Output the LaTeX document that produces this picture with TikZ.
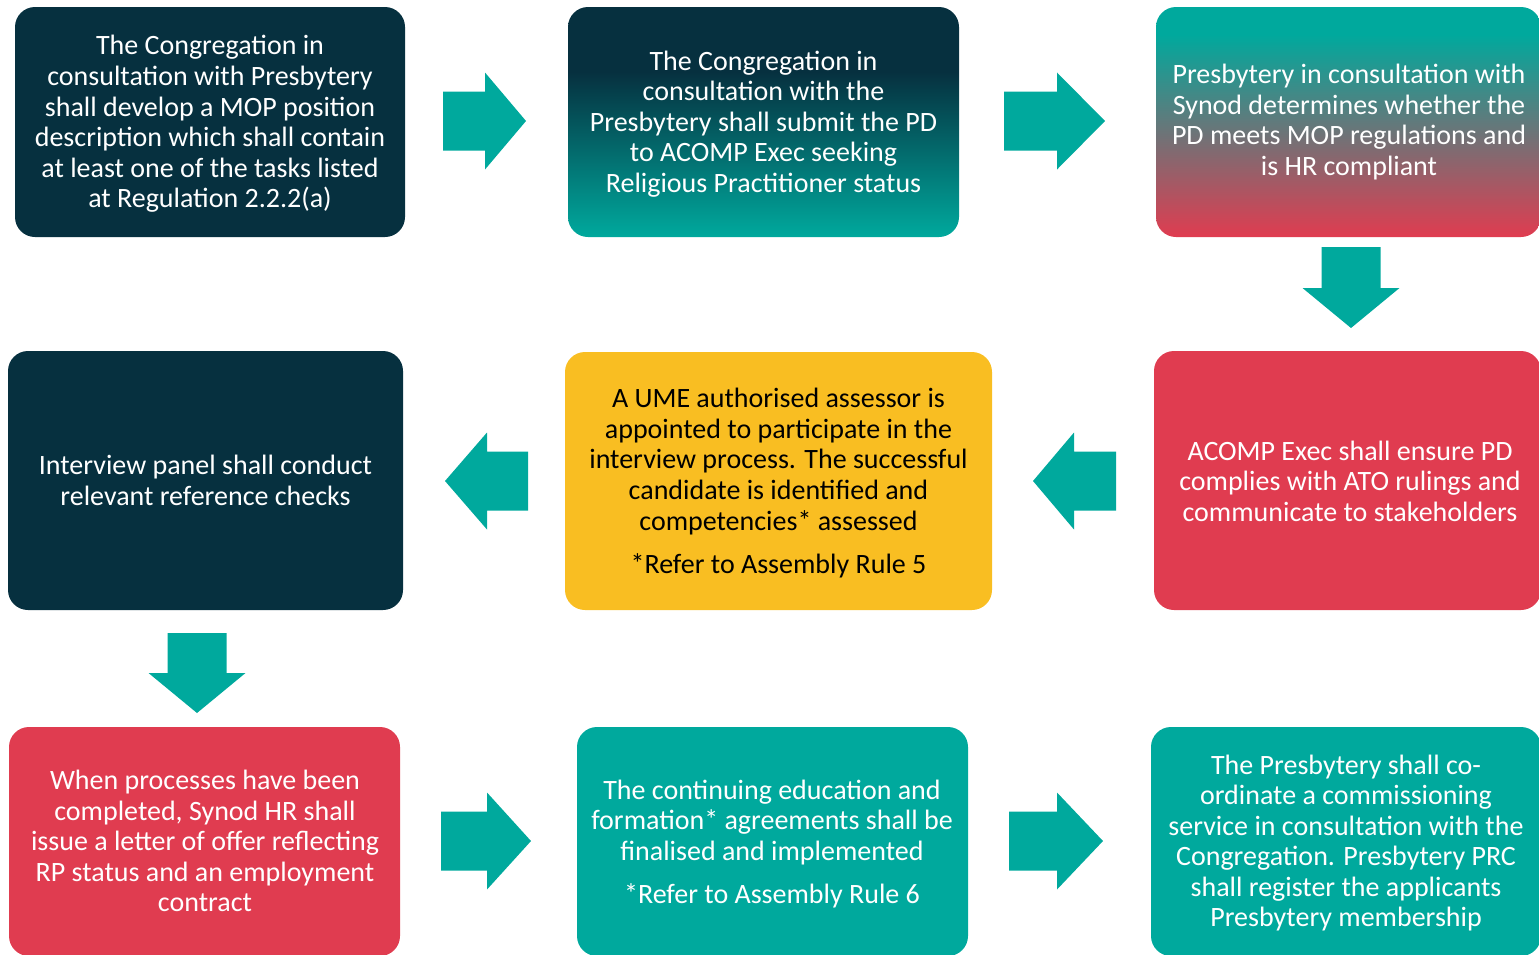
\documentclass[tikz,border=0pt]{standalone}
\usepackage{fontspec}
\setmainfont{Carlito}
\usetikzlibrary{fit}

\definecolor{mopNavy}{HTML}{06303F}
\definecolor{mopTeal}{HTML}{00A99D}
\definecolor{mopRed}{HTML}{E03C50}
\definecolor{mopGold}{HTML}{F9BE22}

% vertical shadings: the band 25bp..75bp is mapped onto the box height
\pgfdeclareverticalshading{navyToTeal}{100bp}{color(0bp)=(mopTeal); color(25bp)=(mopTeal); color(61bp)=(mopNavy); color(75bp)=(mopNavy); color(100bp)=(mopNavy)}
\pgfdeclareverticalshading{tealToRed}{100bp}{color(0bp)=(mopRed); color(25bp)=(mopRed); color(69bp)=(mopTeal); color(75bp)=(mopTeal); color(100bp)=(mopTeal)}

% block arrows: tail, head base, tip along the axis; cross position
\newcommand\blockR[4]{\fill[blockarrow] (#1,#4-29.5) -- (#2,#4-29.5) -- (#2,#4-48.5) -- (#3,#4) -- (#2,#4+48.5) -- (#2,#4+29.5) -- (#1,#4+29.5) -- cycle;}
\newcommand\blockD[4]{\fill[blockarrow] (#4-29.5,#1) -- (#4-29.5,#2) -- (#4-48.5,#2) -- (#4,#3) -- (#4+48.5,#2) -- (#4+29.5,#2) -- (#4+29.5,#1) -- cycle;}

\tikzset{
  blockarrow/.style={fill=mopTeal},
  stepbox/.style={rectangle, rounded corners=15pt, inner sep=0pt},
  steptext/.style={align=center, inner sep=0pt, yshift=-1.5pt,
    font=\fontsize{21}{22.9}\selectfont, text=white},
}

\begin{document}
\begin{tikzpicture}[x=0.75pt, y=-0.75pt]
\useasboundingbox (0,0) rectangle (1539,954);
\clip (0,0) rectangle (1539,954);

% row 1
\node[stepbox, fill=mopNavy, fit={(15,7) (405,237)}] (a) {};
\node[steptext] (at) at (a.center) {The Congregation in\\consultation with Presbytery\\shall develop a MOP position\\description which shall contain\\at least one of the tasks listed\\at Regulation 2.2.2(a)};
\node[stepbox, shade, shading=navyToTeal, fit={(568,7) (959,237)}] (b) {};
\node[steptext] (bt) at (b.center) {The Congregation in\\consultation with the\\Presbytery shall submit the PD\\to ACOMP Exec seeking\\Religious Practitioner status};
\node[stepbox, shade, shading=tealToRed, fit={(1156,7) (1541,237)}] (c) {};
\node[steptext] (ct) at (1349,120) {Presbytery in consultation with\\Synod determines whether the\\PD meets MOP regulations and\\is HR compliant};

% row 2
\node[stepbox, fill=mopNavy, fit={(8,351) (403,610)}] (d) {};
\node[steptext, yshift=1.5pt] (dt) at (d.center) {Interview panel shall conduct\\relevant reference checks};
\node[stepbox, fill=mopGold, fit={(565,352) (992,610)}] (e) {};
\node[steptext, text=black] (et) at (e.center) {A UME authorised assessor is\\appointed to participate in the\\interview process. The successful\\candidate is identified and\\competencies* assessed\\[9.4pt]*Refer to Assembly Rule 5};
\node[stepbox, fill=mopRed, fit={(1154,351) (1541,610)}] (f) {};
\node[steptext] (ft) at (1350,479) {ACOMP Exec shall ensure PD\\complies with ATO rulings and\\communicate to stakeholders};

% row 3
\node[stepbox, fill=mopRed, fit={(9,727) (400,956)}] (g) {};
\node[steptext] (gt) at (205,839) {When processes have been\\completed, Synod HR shall\\issue a letter of offer reflecting\\RP status and an employment\\contract};
\node[stepbox, fill=mopTeal, fit={(577,727) (968,956)}] (h) {};
\node[steptext] (ht) at (772,842) {The continuing education and\\formation* agreements shall be\\finalised and implemented\\[9.4pt]*Refer to Assembly Rule 6};
\node[stepbox, fill=mopTeal, fit={(1151,727) (1541,956)}] (i) {};
\node[steptext] (it) at (1346,841) {The Presbytery shall co-\\ordinate a commissioning\\service in consultation with the\\Congregation. Presbytery PRC\\shall register the applicants\\Presbytery membership};

% flow arrows
\blockR{443}{485}{526}{121}
\blockR{1004}{1057}{1105}{121}
\blockD{247}{288}{328}{1351}
\blockR{1116}{1074}{1033}{481}
\blockR{528}{487}{445}{481}
\blockD{633}{673}{713}{197}
\blockR{441}{487}{531}{841}
\blockR{1009}{1057}{1103}{841}
\end{tikzpicture}
\end{document}
